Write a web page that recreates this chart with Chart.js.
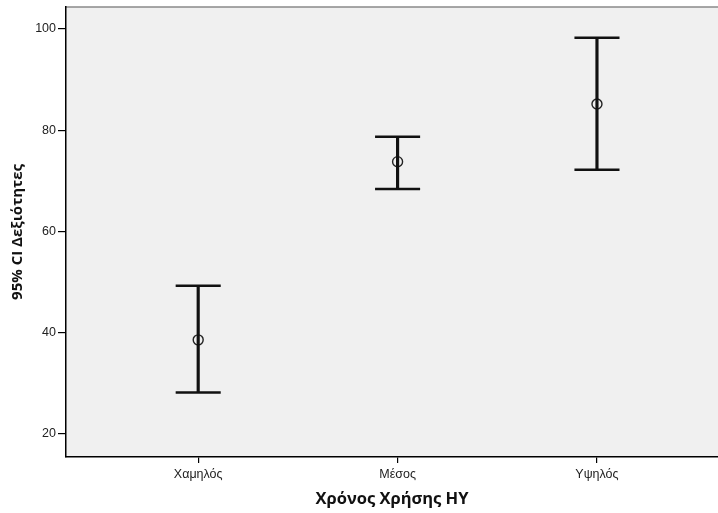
<!DOCTYPE html>
<html lang="el">
<head>
    <meta charset="UTF-8">
    <title>95% CI Δεξιότητες</title>
    <script src="https://cdn.jsdelivr.net/npm/chart.js"></script>
    <style>
        html, body {
            margin: 0;
            padding: 0;
            background: #fff;
        }
        #wrap {
            width: 718px;
            height: 513px;
        }
    </style>
</head>
<body>
    <div id="wrap"><canvas id="ciChart"></canvas></div>
    <script>
        // values
        const groups = ['Χαμηλός', 'Μέσος', 'Υψηλός'];
        const means = [38.6, 73.8, 85.2];
        const lowerCI = [28.2, 68.4, 72.2];
        const upperCI = [49.3, 78.7, 98.3];
        const yTicks = [20, 40, 60, 80, 100];

        const capHalf = 0.113;  // half cap width, in category units

        // vertical whisker as a floating bar
        const whiskers = groups.map((g, i) => ({ x: i, y: [lowerCI[i], upperCI[i]] }));

        // caps as short line segments, broken by null points
        const caps = [];
        groups.forEach((g, i) => {
            caps.push({ x: i - capHalf, y: upperCI[i] }, { x: i + capHalf, y: upperCI[i] }, { x: i, y: null });
            caps.push({ x: i - capHalf, y: lowerCI[i] }, { x: i + capHalf, y: lowerCI[i] }, { x: i, y: null });
        });

        // gap points at both ends keep the point radius out of the layout padding
        const meanPoints = [{ x: 0, y: null }]
            .concat(groups.map((g, i) => ({ x: i, y: means[i] })))
            .concat([{ x: 2, y: null }]);

        // grey plot area + thin top border
        const plotBackground = {
            id: 'plotBackground',
            beforeDraw(chart) {
                const { ctx, chartArea } = chart;
                ctx.save();
                ctx.fillStyle = '#f0f0f0';
                ctx.fillRect(chartArea.left, chartArea.top, chart.width - chartArea.left, chartArea.bottom - chartArea.top);
                ctx.strokeStyle = '#8a8a8a';
                ctx.lineWidth = 1.5;
                ctx.beginPath();
                ctx.moveTo(chartArea.left, chartArea.top);
                ctx.lineTo(chart.width, chartArea.top);
                ctx.stroke();
                ctx.restore();
            }
        };

        const ctx = document.getElementById('ciChart').getContext('2d');
        new Chart(ctx, {
            type: 'bar',
            data: {
                datasets: [
                    {
                        label: 'CI',
                        data: whiskers,
                        backgroundColor: '#111',
                        barThickness: 2.5
                    },
                    {
                        type: 'line',
                        label: 'caps',
                        data: caps,
                        spanGaps: false,
                        pointRadius: 0,
                        borderWidth: 2.5,
                        borderColor: '#111',
                        borderCapStyle: 'butt'
                    },
                    {
                        type: 'line',
                        label: 'mean',
                        data: meanPoints,
                        showLine: false,
                        borderWidth: 1,
                        pointStyle: 'circle',
                        pointRadius: (c) => (c.raw && c.raw.y != null ? 5 : 0),
                        pointBorderWidth: 1.4,
                        pointBorderColor: '#222',
                        pointBackgroundColor: '#f0f0f0'
                    }
                ]
            },
            options: {
                responsive: true,
                maintainAspectRatio: false,
                animation: false,
                layout: { padding: { top: 7, right: 0, left: 0, bottom: 0 } },
                plugins: {
                    legend: { display: false },
                    tooltip: { enabled: false }
                },
                scales: {
                    x: {
                        type: 'linear',
                        offset: false,
                        min: -0.663,
                        max: 2.607,
                        afterBuildTicks: (scale) => {
                            scale.ticks = groups.map((g, i) => ({ value: i }));
                        },
                        afterFit: (scale) => {
                            scale.height = 56;
                            scale.paddingLeft = 0;
                            scale.paddingRight = 0;
                        },
                        ticks: {
                            callback: (v) => groups[v],
                            color: '#222',
                            font: { family: 'Liberation Sans', size: 12.5 },
                            padding: 4,
                            maxRotation: 0
                        },
                        grid: {
                            offset: false,
                            drawOnChartArea: false,
                            tickLength: 6,
                            lineWidth: 1.2,
                            color: '#000'
                        },
                        border: { color: '#000', width: 1.5 },
                        title: {
                            display: true,
                            text: 'Χρόνος Χρήσης ΗΥ',
                            color: '#111',
                            font: { family: 'Open Sans', size: 16.5, weight: 'bold' },
                            padding: { top: 2 }
                        }
                    },
                    y: {
                        min: 15.46,
                        max: 104.35,
                        afterBuildTicks: (scale) => {
                            scale.ticks = yTicks.map(v => ({ value: v }));
                        },
                        afterFit: (scale) => {
                            scale.width = 66;
                            scale.paddingTop = 0;
                            scale.paddingBottom = 0;
                        },
                        ticks: {
                            color: '#222',
                            font: { family: 'Liberation Sans', size: 12.5 },
                            padding: 2
                        },
                        grid: {
                            drawOnChartArea: false,
                            tickLength: 8,
                            lineWidth: 1.2,
                            color: '#000'
                        },
                        border: { color: '#000', width: 1.5 },
                        title: {
                            display: true,
                            text: '95% CI Δεξιότητες',
                            color: '#111',
                            font: { family: 'Open Sans', size: 15, weight: 'bold' },
                            padding: { top: 9, bottom: 0 }
                        }
                    }
                }
            },
            plugins: [plotBackground]
        });
    </script>
</body>
</html>
